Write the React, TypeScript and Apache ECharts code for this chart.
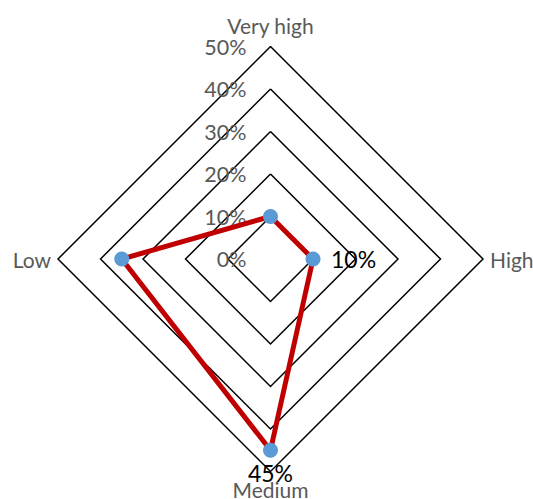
import React, { useEffect, useRef } from 'react';
import * as echarts from 'echarts';

// Indicators in ECharts radar order (starting at top, going counter-clockwise)
const indicatorNames = ['Very high', 'Low', 'Medium', 'High'];
const values = [10, 35, 45, 10];
const axisMin = 0;
const axisMax = 50;
const splitCount = 5;
// Which values carry a data label, and where
const labelRight = 'High';
const labelBottom = 'Medium';

const FONT = 'Lato';

export default function App() {
  const ref = useRef<HTMLDivElement>(null);
  useEffect(() => {
    document.body.style.margin = '0';
    const chart = echarts.init(ref.current!, null, { renderer: 'svg' });
    const only = (name: string) =>
      indicatorNames.map((n, i) => (n === name ? values[i] : 0));
    const helper = (name: string, position: string, distance: number) => ({
      type: 'radar',
      z: 5,
      symbol: 'circle',
      symbolSize: 2,
      silent: true,
      lineStyle: { width: 0, opacity: 0 },
      itemStyle: { color: 'transparent' },
      data: [
        {
          value: only(name),
          label: {
            show: true,
            position,
            distance,
            color: '#000',
            fontSize: 23,
            fontFamily: FONT,
            formatter: (p: any) => (p.value ? `${p.value}%` : ''),
          },
        },
      ],
    });
    chart.setOption({
      animation: false,
      radar: {
        center: [270.5, 259],
        radius: 212.5,
        startAngle: 90,
        shape: 'polygon',
        splitNumber: splitCount,
        nameGap: 7,
        axisName: { color: '#595959', fontSize: 21, fontFamily: FONT },
        splitLine: { lineStyle: { color: '#000', width: 1.5 } },
        splitArea: { show: false },
        axisLine: { show: false },
        axisTick: { show: false },
        axisLabel: { show: false },
        indicator: indicatorNames.map((name, i) => ({
          name,
          min: axisMin,
          max: axisMax,
          ...(i === 0
            ? {
                axisLabel: {
                  show: true,
                  color: '#595959',
                  fontSize: 21.5,
                  fontFamily: FONT,
                  margin: 24,
                  formatter: '{value}%',
                },
              }
            : {}),
        })),
      },
      series: [
        {
          type: 'radar',
          z: 3,
          symbol: 'circle',
          symbolSize: 15,
          lineStyle: { color: '#C00000', width: 5 },
          itemStyle: { color: '#5B9BD5' },
          data: [{ value: values, name: 'Share' }],
        },
        helper(labelRight, 'right', 17),
        helper(labelBottom, 'bottom', 10),
      ],
    });
    return () => chart.dispose();
  }, []);
  return <div ref={ref} style={{ width: 533, height: 499 }} />;
}
